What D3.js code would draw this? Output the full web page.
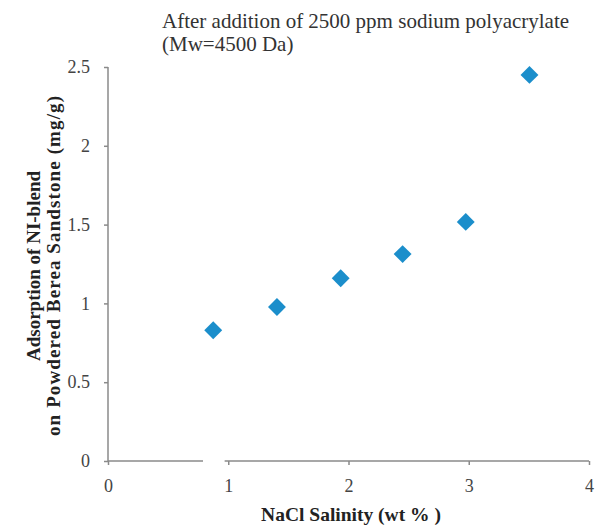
<!DOCTYPE html>
<html><head><meta charset="utf-8">
<script src="https://d3js.org/d3.v7.min.js"></script>
<style>body{margin:0;background:#fff}svg{display:block}
svg text{font-family:"Liberation Serif","Times New Roman",serif}</style>
</head><body>
<script>
const salinity = [0.875, 1.405, 1.935, 2.45, 2.975, 3.505];
const adsorption = [0.83, 0.977, 1.16, 1.313, 1.517, 2.45];
const xTicks = [0, 1, 2, 3, 4];
const yTicks = [0, 0.5, 1, 1.5, 2, 2.5];
const axisBreak = [0.79, 0.97];
const titleLines = ["After addition of 2500 ppm sodium polyacrylate", "(Mw=4500 Da)"];
const yLabelLines = ["Adsorption of NI-blend", "on Powdered Berea Sandstone  (mg/g)"];
const xLabel = "NaCl Salinity  (wt  % )";

const W = 596, H = 525;
const svg = d3.select("body").append("svg").attr("width", W).attr("height", H);
const x = d3.scaleLinear().domain([0, 4]).range([108, 589]);
const y = d3.scaleLinear().domain([0, 2.5]).range([461, 67]);
const axisCol = "#8a8a8a";

// y axis
const ya = svg.append("g").attr("transform", `translate(${x(0)},0)`)
  .call(d3.axisLeft(y).tickValues(yTicks).tickSize(4).tickPadding(14).tickFormat(d3.format("")));
ya.attr("font-family", null);
ya.select(".domain").attr("stroke", axisCol).attr("stroke-width", 1.5).attr("d", `M0,${y(2.5)}V${y(0)}`);
ya.selectAll(".tick line").attr("stroke", axisCol).attr("stroke-width", 1.5);
ya.selectAll(".tick text").attr("font-size", 18).attr("fill", "#444");

// x axis with break
const xa = svg.append("g").attr("transform", `translate(0,${y(0)})`)
  .call(d3.axisBottom(x).tickValues(xTicks).tickSize(4).tickPadding(14).tickFormat(d3.format("")));
xa.attr("font-family", null);
xa.select(".domain").attr("stroke", axisCol).attr("stroke-width", 1.5)
  .attr("d", `M${x(0)},0H${x(axisBreak[0])}M${x(axisBreak[1])},0H${x(4)}`);
xa.selectAll(".tick line").attr("stroke", axisCol).attr("stroke-width", 1.5);
xa.selectAll(".tick text").attr("font-size", 18).attr("fill", "#444");

// points
const diamond = d3.symbol().type(d3.symbolSquare).size(160);
svg.append("g").selectAll("path").data(salinity.map((s, i) => [s, adsorption[i]])).join("path")
  .attr("d", diamond)
  .attr("transform", d => `translate(${x(d[0])},${y(d[1])}) rotate(45)`)
  .attr("fill", "#1b8ecb");

// title
svg.append("text").attr("x", 162).attr("y", 28).attr("font-size", 21).attr("fill", "#333")
  .selectAll("tspan").data(titleLines).join("tspan").attr("x", 162).attr("dy", (d, i) => i ? 23 : 0).text(d => d);

// y label
const yl = svg.append("g").attr("transform", "translate(40,266) rotate(-90)");
yl.selectAll("text").data(yLabelLines).join("text")
  .attr("text-anchor", "middle").attr("x", 0).attr("y", (d, i) => i * 20)
  .attr("font-size", 19).attr("font-weight", "bold").attr("fill", "#222")
  .each(function (d, i) { if (i) d3.select(this).attr("textLength", 340).attr("lengthAdjust", "spacing"); })
  .text(d => d);

// x label
svg.append("text").attr("x", 351).attr("y", 521).attr("text-anchor", "middle")
  .attr("font-size", 19.5).attr("font-weight", "bold").attr("fill", "#222").text(xLabel);
</script>
</body></html>
